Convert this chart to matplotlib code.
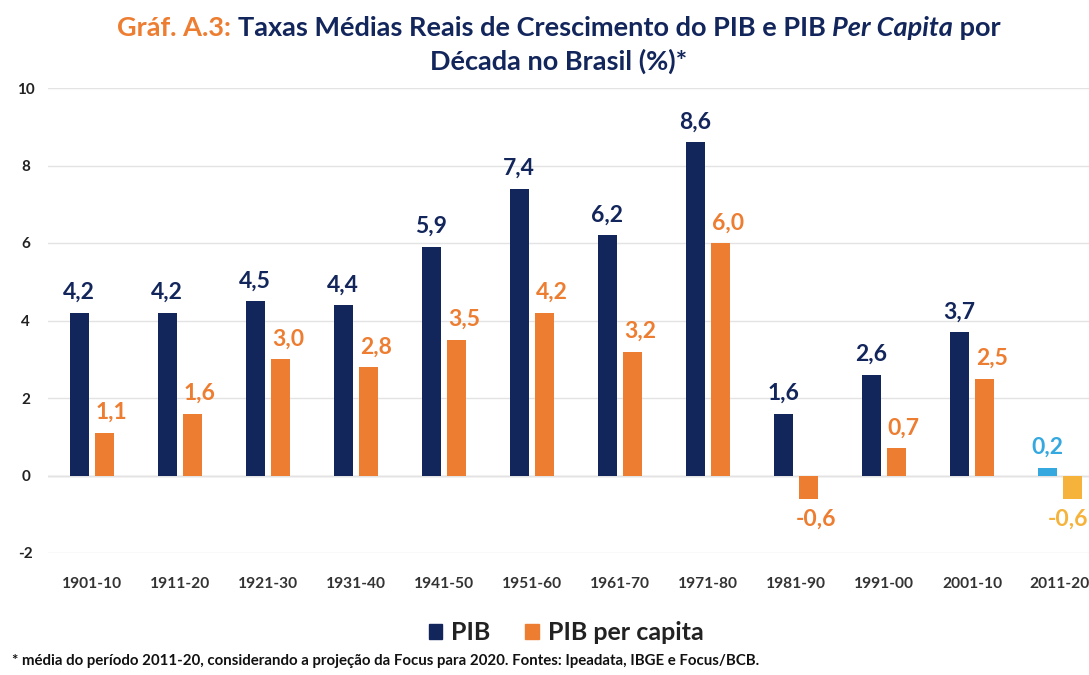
import matplotlib
matplotlib.use("Agg")
import matplotlib.pyplot as plt
from matplotlib.patches import Rectangle
import numpy as np

categories = ["1901-10", "1911-20", "1921-30", "1931-40", "1941-50", "1951-60",
              "1961-70", "1971-80", "1981-90", "1991-00", "2001-10", "2011-20"]
pib = [4.2, 4.2, 4.5, 4.4, 5.9, 7.4, 6.2, 8.6, 1.6, 2.6, 3.7, 0.2]
pib_pc = [1.1, 1.6, 3.0, 2.8, 3.5, 4.2, 3.2, 6.0, -0.6, 0.7, 2.5, -0.6]
yticks = [-2, 0, 2, 4, 6, 8, 10]

NAVY = "#13265c"
ORANGE = "#ed7d31"
LBLUE = "#35a9df"
AMBER = "#f6b33b"
pib_colors = [NAVY] * 11 + [LBLUE]
pc_colors = [ORANGE] * 11 + [AMBER]

FONT = "Lato"
plt.rcParams["font.family"] = [FONT, "DejaVu Sans"]

fig = plt.figure(figsize=(10.89, 6.75), dpi=100)
ax = fig.add_axes([48 / 1089, (675 - 553) / 675, 1056 / 1089, (553 - 88) / 675])

x = np.arange(len(categories))
w = 0.22
off = 0.145
ax.bar(x - off, pib, width=w, color=pib_colors, zorder=3)
ax.bar(x + off, pib_pc, width=w, color=pc_colors, zorder=3)

def fmt(v):
    return f"{v:.1f}".replace(".", ",")

LSIZE = 16.5
n = len(categories)
for i in range(n):
    v = pib[i]
    ax.annotate(fmt(v), (x[i] - off, v), xytext=(0, 7), textcoords="offset points",
                ha="center", va="bottom", fontsize=LSIZE, color=pib_colors[i], fontweight="bold")
    v = pib_pc[i]
    dx = 0.08 if i < n - 1 else -0.05
    if v >= 0:
        ax.annotate(fmt(v), (x[i] + off + dx, v), xytext=(0, 7), textcoords="offset points",
                    ha="center", va="bottom", fontsize=LSIZE, color=pc_colors[i], fontweight="bold")
    else:
        ax.annotate(fmt(v), (x[i] + off + dx, v), xytext=(0, -7), textcoords="offset points",
                    ha="center", va="top", fontsize=LSIZE, color=pc_colors[i], fontweight="bold")

ax.set_xlim(-0.5, n - 0.5)
ax.set_ylim(-2, 10)
ax.set_yticks(yticks)
ax.set_yticklabels([str(t) for t in yticks], fontsize=11, fontweight="bold", color="#222222")
ax.set_xticks(x)
ax.set_xticklabels(categories, fontsize=11.2, color="#333333", fontweight="bold")
ax.tick_params(axis="both", length=0)
ax.tick_params(axis="x", pad=17)
ax.tick_params(axis="y", pad=16)
for yl in ax.get_yticklabels():
    yl.set_horizontalalignment("center")
ax.grid(axis="y", color="#e3e3e3", linewidth=1, zorder=0)
for s in ax.spines.values():
    s.set_visible(False)
ax.axhline(0, color="#d0d0d0", linewidth=1, zorder=1)

# Title with mixed styles
renderer = fig.canvas.get_renderer()

def rich_line(parts, y, size):
    texts = []
    for s, color, style in parts:
        t = fig.text(0, y, s, fontsize=size, color=color, fontweight="bold",
                     fontstyle=style, ha="left", va="center")
        texts.append(t)
    widths = [t.get_window_extent(renderer).width for t in texts]
    total = sum(widths)
    xpix = 559 - total / 2
    for t, wd in zip(texts, widths):
        t.set_x(xpix / 1089)
        xpix += wd

rich_line([("Gráf. A.3: ", ORANGE, "normal"),
           ("Taxas Médias Reais de Crescimento do PIB e PIB ", NAVY, "normal"),
           ("Per Capita", NAVY, "italic"),
           (" por", NAVY, "normal")], 1 - 28 / 675, 19.5)
rich_line([("Década no Brasil (%)*", NAVY, "normal")], 1 - 61 / 675, 19.5)

# Legend
handles = [Rectangle((0, 0), 1, 1, color=NAVY), Rectangle((0, 0), 1, 1, color=ORANGE)]
fig.legend(handles, ["PIB", "PIB per capita"], loc="center", bbox_to_anchor=(566 / 1089, 1 - 633 / 675),
           ncol=2, frameon=False, prop={"size": 18, "weight": "bold"}, labelcolor="#222222",
           handlelength=0.55, handleheight=0.55, handletextpad=0.35, columnspacing=1.4)

fig.text(12 / 1089, 1 - 661 / 675,
         "* média do período 2011-20, considerando a projeção da Focus para 2020. Fontes: Ipeadata, IBGE e Focus/BCB.",
         fontsize=10.8, fontweight="bold", color="#111111", ha="left", va="center")

fig.savefig("out.png", dpi=100)
